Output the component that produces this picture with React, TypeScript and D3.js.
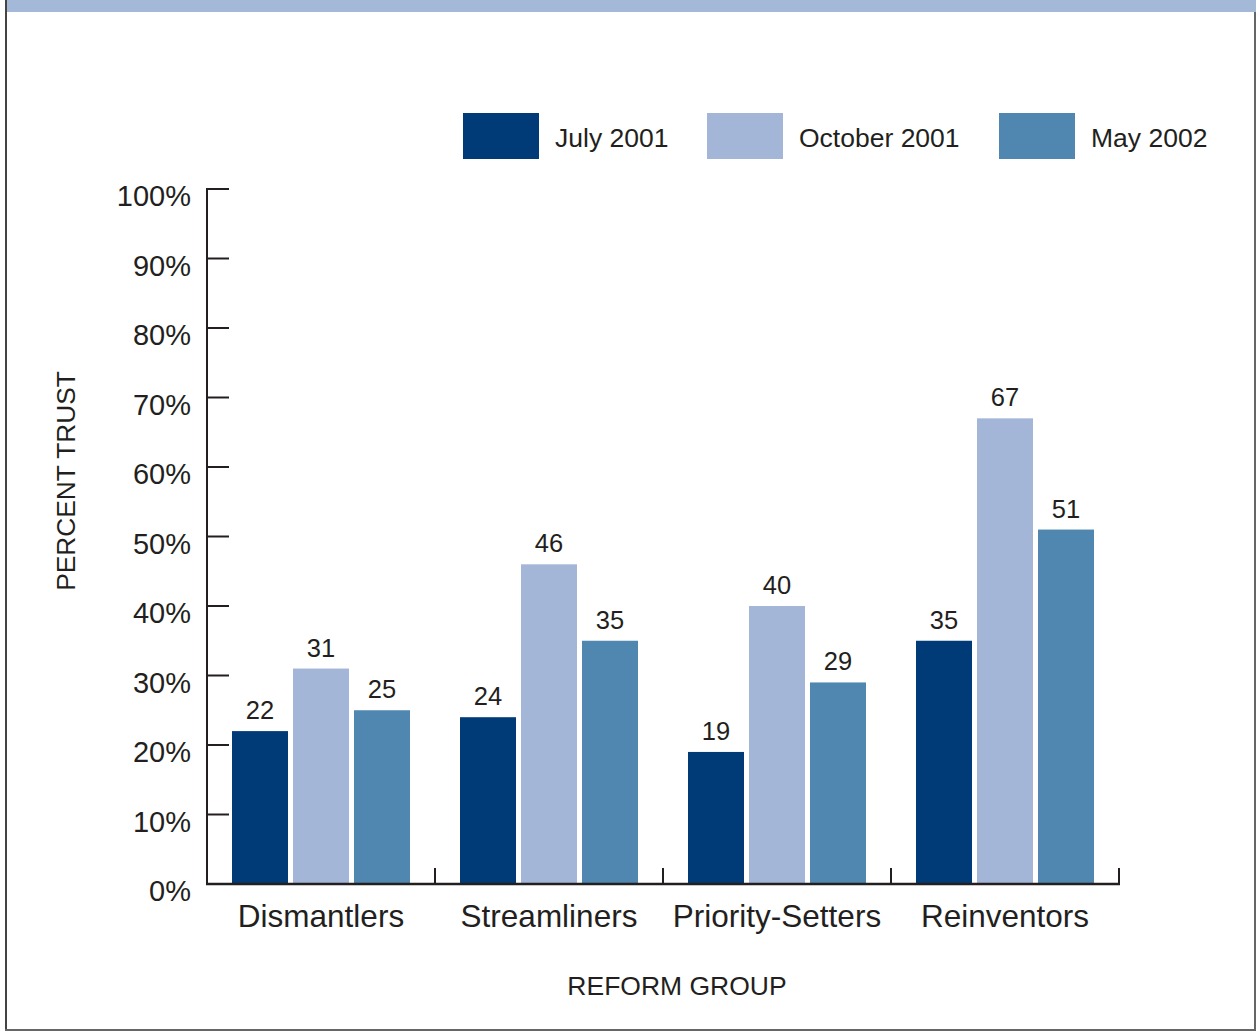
import React from "react";
import * as d3 from "d3";

const categories = ["Dismantlers", "Streamliners", "Priority-Setters", "Reinventors"];
const seriesNames = ["July 2001", "October 2001", "May 2002"];
const july2001 = [22, 24, 19, 35];
const october2001 = [31, 46, 40, 67];
const may2002 = [25, 35, 29, 51];
const seriesValues = [july2001, october2001, may2002];
const seriesColors = ["#003b78", "#a3b6d8", "#4f87b1"];
const yTicks = [0, 10, 20, 30, 40, 50, 60, 70, 80, 90, 100];

const W = 1259;
const H = 1036;
const FONT = "'Liberation Sans', Arial, Helvetica, sans-serif";
const TEXT = "#231f20";

export default function App() {
  const x0 = 207, x1 = 1119, y0 = 884, y1 = 189;
  const y = d3.scaleLinear().domain([0, 100]).range([y0, y1]);
  const xCat = d3.scaleBand<string>().domain(categories).range([x0, x1]).paddingInner(0).paddingOuter(0);
  const groupPad = 25;
  const xSeries = d3
    .scaleBand<string>()
    .domain(seriesNames)
    .range([0, xCat.bandwidth() - groupPad * 2])
    .paddingInner(5 / 61)
    .paddingOuter(0);

  const legendX = [463, 707, 999];

  return (
    <svg
      width={W}
      height={H}
      style={{ position: "absolute", left: 0, top: 0, background: "#fff" }}
      fontFamily={FONT}
    >
      <rect x={0} y={0} width={W} height={H} fill="#fff" />
      {/* top band */}
      <rect x={7} y={0} width={W - 10} height={12} fill="#a4b8d8" />
      {/* frame */}
      <line x1={6} y1={0} x2={6} y2={1030} stroke="#444" strokeWidth={2} />
      <line x1={1255} y1={12} x2={1255} y2={1030} stroke="#666" strokeWidth={2} />
      <line x1={5} y1={1030} x2={1256} y2={1030} stroke="#666" strokeWidth={2} />

      {/* legend */}
      {seriesNames.map((s, i) => (
        <g key={s}>
          <rect x={legendX[i]} y={113} width={76} height={46} fill={seriesColors[i]} />
          <text x={legendX[i] + 92} y={147} fontSize={26.5} fill={TEXT}>
            {s}
          </text>
        </g>
      ))}

      {/* bars */}
      {categories.map((c, ci) => (
        <g key={c} transform={`translate(${(xCat(c) as number) + groupPad},0)`}>
          {seriesNames.map((s, si) => {
            const v = seriesValues[si][ci];
            const bx = xSeries(s) as number;
            return (
              <g key={s}>
                <rect
                  x={bx}
                  y={y(v)}
                  width={xSeries.bandwidth()}
                  height={y0 - y(v)}
                  fill={seriesColors[si]}
                />
                <text
                  x={bx + xSeries.bandwidth() / 2}
                  y={y(v) - 12}
                  textAnchor="middle"
                  fontSize={25.5}
                  fill={TEXT}
                >
                  {v}
                </text>
              </g>
            );
          })}
        </g>
      ))}

      {/* y axis */}
      <line x1={x0} y1={y1 - 1} x2={x0} y2={y0 + 1} stroke={TEXT} strokeWidth={2} />
      {yTicks.map((t) => (
        <g key={t}>
          <line x1={x0} x2={x0 + 22} y1={y(t)} y2={y(t)} stroke={TEXT} strokeWidth={2} />
          <text x={191} y={y(t) + 17} textAnchor="end" fontSize={29} fill={TEXT}>
            {t}%
          </text>
        </g>
      ))}

      {/* x axis */}
      <line x1={x0 - 1} y1={y0} x2={x1 + 1} y2={y0} stroke={TEXT} strokeWidth={2.5} />
      {categories.map((c) => {
        const bx = (xCat(c) as number) + xCat.bandwidth();
        return <line key={c} x1={bx} x2={bx} y1={y0} y2={y0 - 16} stroke={TEXT} strokeWidth={2} />;
      })}
      {categories.map((c) => (
        <text
          key={c}
          x={(xCat(c) as number) + xCat.bandwidth() / 2}
          y={927}
          textAnchor="middle"
          fontSize={31.5}
          fill={TEXT}
        >
          {c}
        </text>
      ))}

      {/* axis titles */}
      <text x={677} y={995} textAnchor="middle" fontSize={26.5} fill={TEXT}>
        REFORM GROUP
      </text>
      <text
        transform={`translate(75,481) rotate(-90)`}
        textAnchor="middle"
        fontSize={26.3}
        fill={TEXT}
      >
        PERCENT TRUST
      </text>
    </svg>
  );
}
